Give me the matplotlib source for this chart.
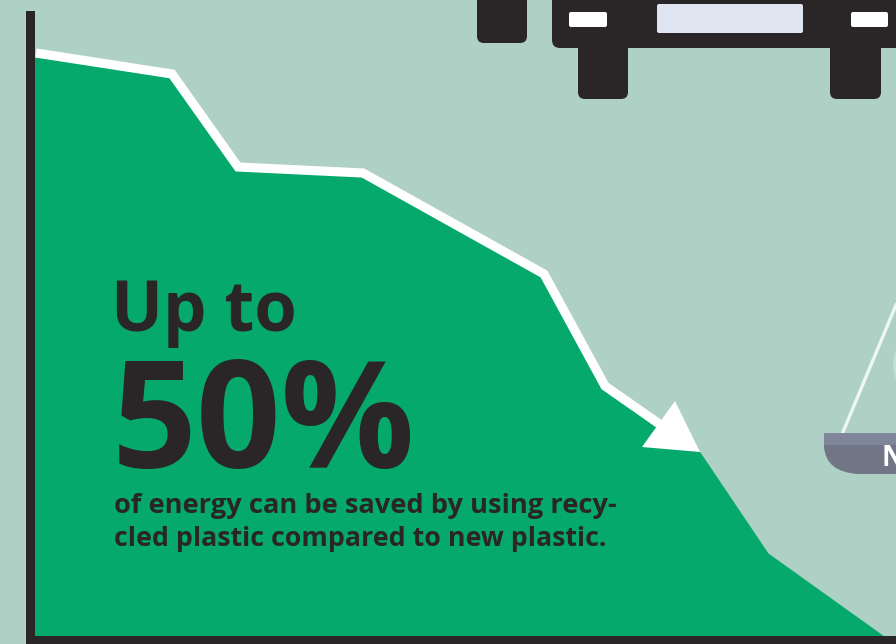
import matplotlib
matplotlib.use("Agg")
import matplotlib.pyplot as plt
from matplotlib.patches import Circle, FancyBboxPatch, PathPatch, Polygon, Rectangle
from matplotlib.path import Path

# area outline and the trend line above it (pixel-like units)
area_x = [30, 36, 170, 236, 362, 542, 603, 660, 700, 768, 884]
area_y = [57, 57, 76, 168, 176, 276, 388, 430, 452, 553, 636]
trend_x = [36, 172, 238, 363, 544, 605, 668]
trend_y = [53, 74, 167, 173, 274, 386, 430]
arrow_x = [675, 642, 700]
arrow_y = [401, 447, 452]

headline = "Up to"
big_number = "50%"
body_lines = ["of energy can be saved by using recy-",
              "cled plastic compared to new plastic."]

BG = "#aed0c5"
GREEN = "#05a96c"
DARK = "#2a2526"

plt.rcParams['font.family'] = ['Open Sans', 'DejaVu Sans']

fig = plt.figure(figsize=(8.96, 6.44), dpi=100, facecolor=BG)
ax = fig.add_axes([0, 0, 1, 1])
ax.set_xlim(0, 896)
ax.set_ylim(644, 0)
ax.set_facecolor(BG)
ax.axis('off')

# green area under the curve
ax.fill_between(area_x, area_y, 640, color=GREEN, lw=0, zorder=1)

# white trend line with arrow head
ax.plot(trend_x, trend_y, color='white', lw=6.6, solid_joinstyle='miter',
        solid_capstyle='butt', zorder=2)
ax.add_patch(Polygon(list(zip(arrow_x, arrow_y)), closed=True, color='white', lw=0, zorder=3))

# axis lines
ax.add_patch(Rectangle((26, 11), 9, 633, color=DARK, lw=0, zorder=4))
ax.add_patch(Rectangle((26, 636), 870, 8, color=DARK, lw=0, zorder=4))


def rounded(x0, y0, x1, y1, color, r=6, z=5):
    ax.add_patch(FancyBboxPatch((x0 + r, y0 + r), x1 - x0 - 2 * r, y1 - y0 - 2 * r,
                                boxstyle=f"round,pad={r},rounding_size={r}",
                                fc=color, ec='none', lw=0, zorder=z))


# car seen from the front
rounded(477, -20, 527, 43, DARK, 7)
rounded(552, -20, 920, 48, DARK, 8)
rounded(578, 30, 628, 99, DARK, 7)
rounded(830, 30, 881, 99, DARK, 7)
rounded(569, 12, 607, 27, 'white', 2, 6)
rounded(851, 12, 888, 27, 'white', 2, 6)
rounded(657, 4, 803, 33, '#dfe5f0', 2, 6)

# scale: weight disc, string and pan on the right edge
ax.add_patch(Circle((930, 365), 37, fc='#c4ddd5', ec='none', zorder=2))
ax.plot([843, 896], [432, 305], color='#eef7f3', lw=2.4, zorder=2)
pan_path = Path([(824, 433), (900, 433), (900, 474), (858, 474), (826, 472), (824, 447), (824, 433)],
                [Path.MOVETO, Path.LINETO, Path.LINETO, Path.LINETO, Path.CURVE3, Path.CURVE3, Path.CLOSEPOLY])
pan = PathPatch(pan_path, fc='#707686', ec='none', zorder=3)
ax.add_patch(pan)
band = Rectangle((824, 433), 76, 12, fc='#80869a', ec='none', zorder=3)
ax.add_patch(band)
band.set_clip_path(pan)
ax.text(881, 466, "N", color='white', fontsize=20, fontweight='bold', va='baseline',
        ha='left', zorder=6)

# text block
ax.text(111, 331, headline, color=DARK, fontsize=49.5, fontweight='bold', va='baseline', zorder=6)
ax.text(112, 468, big_number, color=DARK, fontsize=107, fontweight='bold', va='baseline', zorder=6)
ax.text(114, 513, body_lines[0], color=DARK, fontsize=19.6, fontweight='bold', va='baseline', zorder=6)
ax.text(114, 546, body_lines[1], color=DARK, fontsize=19.3, fontweight='bold', va='baseline', zorder=6)

fig.savefig("out.png", dpi=100, facecolor=BG)
